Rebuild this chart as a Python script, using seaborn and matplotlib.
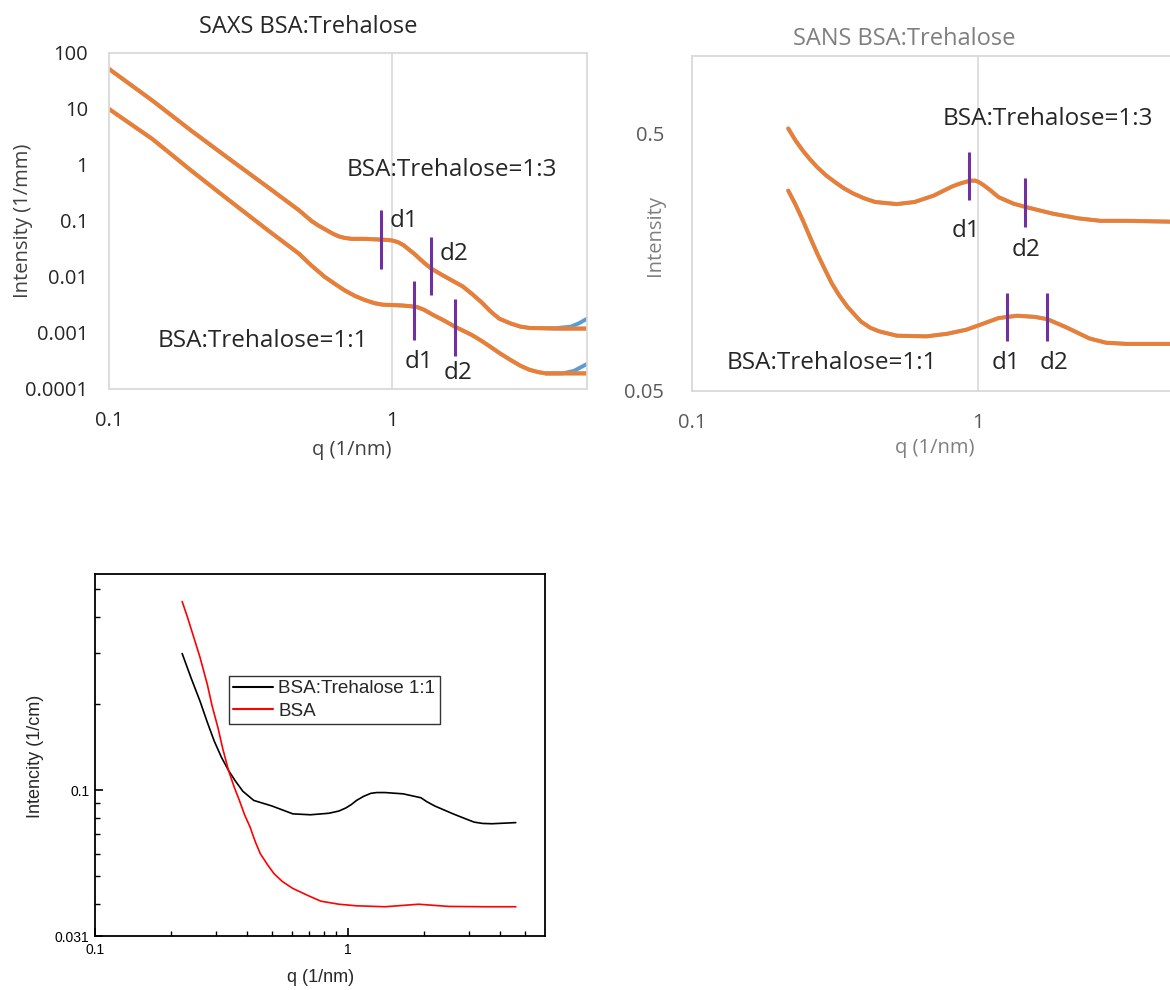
import matplotlib
matplotlib.use("Agg")
import matplotlib.pyplot as plt
import numpy as np
import pandas as pd
import seaborn as sns
from matplotlib.ticker import NullLocator, FixedLocator

# ---------------- data ----------------
# SAXS BSA:Trehalose
saxs_q13 = [0.1, 0.1425, 0.195, 0.266, 0.365, 0.47, 0.52, 0.55, 0.59, 0.62, 0.65, 0.68, 0.72,
            0.80, 0.96, 1.0, 1.05, 1.1, 1.2, 1.3, 1.38, 1.5, 1.63, 1.78, 1.92, 2.08, 2.24, 2.4,
            2.63, 2.85, 3.07, 3.8, 4.9]
saxs_i13 = [51.9, 14.1, 4.13, 1.29, 0.40, 0.155, 0.10, 0.083, 0.068, 0.059, 0.053, 0.050, 0.048,
            0.048, 0.046, 0.045, 0.042, 0.037, 0.026, 0.018, 0.0141, 0.011, 0.0087, 0.0068, 0.0050,
            0.0035, 0.0024, 0.0018, 0.00148, 0.0013, 0.00123, 0.0012, 0.0012]
saxs_q11 = [0.1, 0.1425, 0.195, 0.266, 0.365, 0.47, 0.52, 0.58, 0.63, 0.68, 0.74, 0.80, 0.87,
            0.93, 1.09, 1.17, 1.23, 1.3, 1.40, 1.52, 1.67, 1.92, 2.08, 2.24, 2.4, 2.63, 2.85,
            3.07, 3.3, 3.5, 4.9]
saxs_i11 = [10.0, 2.9, 0.80, 0.234, 0.068, 0.026, 0.016, 0.010, 0.0075, 0.0058, 0.0046, 0.0039,
            0.0034, 0.0032, 0.0031, 0.0030, 0.0029, 0.0026, 0.0021, 0.0017, 0.0013, 0.00092,
            0.00072, 0.00056, 0.00044, 0.00033, 0.00026, 0.00022, 0.00020, 0.00019, 0.00019]
saxs_tail_q13 = [3.07, 3.8, 4.3, 4.6, 4.9]
saxs_tail_i13 = [0.00123, 0.00122, 0.0013, 0.0015, 0.0018]
saxs_tail_q11 = [3.5, 4.0, 4.4, 4.7, 4.9]
saxs_tail_i11 = [0.00019, 0.00019, 0.00021, 0.00025, 0.00028]
saxs_mark_q = [0.918, 1.38, 1.20, 1.667]
saxs_mark_lo = [0.0141, 0.0047, 0.000745, 0.000386]
saxs_mark_hi = [0.155, 0.0518, 0.0084, 0.0040]

# SANS BSA:Trehalose
sans_q13 = [0.217, 0.23, 0.244, 0.258, 0.274, 0.295, 0.317, 0.34, 0.367, 0.40, 0.437, 0.52,
            0.60, 0.70, 0.81, 0.86, 0.91, 0.95, 0.98, 1.01, 1.05, 1.1, 1.18, 1.33, 1.47, 1.83,
            2.25, 2.68, 3.3, 5.0]
sans_i13 = [0.523, 0.47, 0.429, 0.398, 0.37, 0.343, 0.323, 0.306, 0.292, 0.28, 0.271, 0.266,
            0.271, 0.287, 0.311, 0.319, 0.325, 0.328, 0.328, 0.323, 0.314, 0.302, 0.283, 0.267,
            0.259, 0.244, 0.234, 0.229, 0.229, 0.227]
sans_q11 = [0.217, 0.23, 0.244, 0.258, 0.274, 0.29, 0.308, 0.328, 0.35, 0.37, 0.39, 0.42,
            0.45, 0.52, 0.66, 0.78, 0.91, 1.02, 1.18, 1.37, 1.58, 1.75, 2.05, 2.45, 2.8, 3.3, 5.0]
sans_i11 = [0.30, 0.265, 0.23, 0.199, 0.171, 0.15, 0.131, 0.117, 0.106, 0.099, 0.093, 0.088,
            0.0853, 0.082, 0.0815, 0.0834, 0.0865, 0.0905, 0.096, 0.098, 0.097, 0.095, 0.088,
            0.080, 0.077, 0.0762, 0.0762]
sans_mark_q = [0.927, 1.458, 1.26, 1.74]
sans_mark_lo = [0.275, 0.217, 0.078, 0.078]
sans_mark_hi = [0.422, 0.336, 0.120, 0.120]

# Bottom panel
bsa_tre_q = [0.221, 0.24, 0.26, 0.278, 0.296, 0.316, 0.337, 0.36, 0.384, 0.424, 0.50, 0.605,
             0.71, 0.84, 0.92, 0.98, 1.03, 1.08, 1.15, 1.23, 1.30, 1.40, 1.65, 1.94, 2.05, 2.2,
             2.6, 2.9, 3.15, 3.4, 3.7, 4.6]
bsa_tre_i = [0.299, 0.245, 0.204, 0.172, 0.148, 0.130, 0.117, 0.107, 0.099, 0.092, 0.088, 0.0826,
             0.082, 0.083, 0.0845, 0.0866, 0.089, 0.092, 0.095, 0.0974, 0.098, 0.098, 0.097,
             0.094, 0.091, 0.088, 0.0826, 0.0795, 0.0773, 0.0765, 0.0763, 0.077]
bsa_q = [0.221, 0.232, 0.244, 0.26, 0.278, 0.29, 0.306, 0.32, 0.337, 0.354, 0.372, 0.39, 0.41,
         0.43, 0.45, 0.48, 0.51, 0.55, 0.605, 0.69, 0.78, 0.92, 1.08, 1.4, 1.9, 2.5, 3.5, 4.6]
bsa_i = [0.454, 0.40, 0.347, 0.29, 0.233, 0.197, 0.165, 0.139, 0.117, 0.103, 0.092, 0.082, 0.0743,
         0.066, 0.060, 0.055, 0.0511, 0.048, 0.0454, 0.043, 0.041, 0.040, 0.0395, 0.0392,
         0.0400, 0.0393, 0.0392, 0.0392]

# ---------------- style ----------------
sns.set_style("white")
plt.rcParams['font.family'] = ['Open Sans', 'DejaVu Sans']

ORANGE = '#ED7D31'
BLUE = '#5B9BD5'
PURPLE = '#7030A0'
BORDER = '#D9D9D9'
W, H = 1170, 990

fig = plt.figure(figsize=(W / 100, H / 100), dpi=100)


def rect(l, t, r, b):
    return [l / W, 1 - b / H, (r - l) / W, (b - t) / H]


def line(ax, q, i, color, lw, z=2):
    sns.lineplot(x=q, y=i, ax=ax, color=color, linewidth=lw, sort=False,
                 estimator=None, legend=False, zorder=z)


tc = '#262626'
fs = 17.5
tfs = 14.5
lfs = 14.5

# ---------- SAXS ----------
ax1 = fig.add_axes(rect(109, 53, 587, 389))
ax1.set_xscale('log'); ax1.set_yscale('log')
line(ax1, saxs_tail_q13, saxs_tail_i13, BLUE, 2.8, 1)
line(ax1, saxs_tail_q11, saxs_tail_i11, BLUE, 2.8, 1)
line(ax1, saxs_q13, saxs_i13, '#A5A5A5', 3.0, 1)
line(ax1, saxs_q11, saxs_i11, '#A5A5A5', 3.0, 1)
line(ax1, saxs_q13, saxs_i13, ORANGE, 2.7, 2)
line(ax1, saxs_q11, saxs_i11, ORANGE, 2.7, 2)
ax1.vlines(saxs_mark_q, saxs_mark_lo, saxs_mark_hi, color=PURPLE, lw=2.2, zorder=3)
ax1.axvline(1, color=BORDER, lw=1.2, zorder=0)
ax1.set_xlim(0.1, 4.9); ax1.set_ylim(1e-4, 100)
ax1.xaxis.set_major_locator(FixedLocator([0.1, 1]))
ax1.set_xticklabels(['0.1', '1'])
ax1.yaxis.set_major_locator(FixedLocator([1e-4, 1e-3, 1e-2, 1e-1, 1, 10, 100]))
ax1.set_yticklabels(['0.0001', '0.001', '0.01', '0.1', '1', '10', '100'])
ax1.xaxis.set_minor_locator(NullLocator()); ax1.yaxis.set_minor_locator(NullLocator())
ax1.tick_params(axis='x', length=0, pad=16, labelsize=tfs, labelcolor='#262626')
ax1.tick_params(axis='y', length=0, pad=15, labelsize=tfs, labelcolor='#262626')
for s in ax1.spines.values():
    s.set_color(BORDER); s.set_linewidth(1.3)
ax1.set_xlabel(''); ax1.set_ylabel('')
ax1.text(0.693, 0.80, 'BSA:Trehalose=1:3', fontsize=fs, color=tc, va='center', ha='left')
ax1.text(0.149, 0.00072, 'BSA:Trehalose=1:1', fontsize=fs, color=tc, va='center', ha='left')
ax1.text(0.98, 0.102, 'd1', fontsize=fs, color=tc, va='center', ha='left')
ax1.text(1.47, 0.026, 'd2', fontsize=fs, color=tc, va='center', ha='left')
ax1.text(1.245, 0.000306, 'd1', fontsize=fs, color=tc, va='center', ha='center')
ax1.text(1.71, 0.00019, 'd2', fontsize=fs, color=tc, va='center', ha='center')
fig.text(308 / W, 1 - 27 / H, 'SAXS BSA:Trehalose', fontsize=17, color=tc, ha='center', va='center')
fig.text(23 / W, 1 - 221 / H, 'Intensity (1/mm)', fontsize=lfs, color='#404040', ha='center',
         va='center', rotation=90)
fig.text(352 / W, 1 - 450 / H, 'q (1/nm)', fontsize=lfs, color='#404040', ha='center', va='center')

# ---------- SANS ----------
gc = '#7F7F7F'
ax2 = fig.add_axes(rect(692, 56, 1178, 391))
ax2.set_xscale('log'); ax2.set_yscale('log')
line(ax2, sans_q13, sans_i13, '#A5A5A5', 3.0, 1)
line(ax2, sans_q11, sans_i11, '#A5A5A5', 3.0, 1)
line(ax2, sans_q13, sans_i13, ORANGE, 2.6, 2)
line(ax2, sans_q11, sans_i11, ORANGE, 2.6, 2)
ax2.vlines(sans_mark_q, sans_mark_lo, sans_mark_hi, color=PURPLE, lw=2.2, zorder=3)
ax2.axvline(1, color=BORDER, lw=1.2, zorder=0)
ax2.set_xlim(0.1, 5); ax2.set_ylim(0.05, 1)
ax2.xaxis.set_major_locator(FixedLocator([0.1, 1]))
ax2.set_xticklabels(['0.1', '1'])
ax2.yaxis.set_major_locator(FixedLocator([0.05, 0.5]))
ax2.set_yticklabels(['0.05', '0.5'])
ax2.xaxis.set_minor_locator(NullLocator()); ax2.yaxis.set_minor_locator(NullLocator())
ax2.tick_params(axis='x', length=0, pad=16, labelsize=tfs, labelcolor='#595959')
ax2.tick_params(axis='y', direction='in', length=5, width=1.2, color=BORDER, pad=20,
                labelsize=tfs, labelcolor='#595959')
for s in ax2.spines.values():
    s.set_color(BORDER); s.set_linewidth(1.3)
ax2.set_xlabel(''); ax2.set_ylabel('')
ax2.text(0.751, 0.568, 'BSA:Trehalose=1:3', fontsize=fs, color=tc, va='center', ha='left')
ax2.text(0.132, 0.0643, 'BSA:Trehalose=1:1', fontsize=fs, color=tc, va='center', ha='left')
ax2.text(0.91, 0.21, 'd1', fontsize=fs, color=tc, va='center', ha='center')
ax2.text(1.47, 0.176, 'd2', fontsize=fs, color=tc, va='center', ha='center')
ax2.text(1.25, 0.0643, 'd1', fontsize=fs, color=tc, va='center', ha='center')
ax2.text(1.84, 0.0643, 'd2', fontsize=fs, color=tc, va='center', ha='center')
fig.text(904 / W, 1 - 39 / H, 'SANS BSA:Trehalose', fontsize=17, color=gc, ha='center', va='center')
fig.text(655 / W, 1 - 235 / H, 'Intensity', fontsize=lfs, color=gc, ha='center', va='center',
         rotation=90)
fig.text(935 / W, 1 - 448 / H, 'q (1/nm)', fontsize=lfs, color=gc, ha='center', va='center')

# ---------- Bottom (Origin style) ----------
arial = ['Liberation Sans', 'DejaVu Sans']
ax3 = fig.add_axes(rect(95, 574, 545, 936))
ax3.set_xscale('log'); ax3.set_yscale('log')
sns.lineplot(x=bsa_tre_q, y=bsa_tre_i, ax=ax3, color='black', linewidth=1.2, sort=False,
             estimator=None, label='BSA:Trehalose 1:1')
sns.lineplot(x=bsa_q, y=bsa_i, ax=ax3, color='red', linewidth=1.2, sort=False,
             estimator=None, label='BSA')
ax3.set_xlim(0.1, 6); ax3.set_ylim(0.031, 0.566)
ax3.xaxis.set_major_locator(FixedLocator([0.1, 1]))
ax3.set_xticklabels(['0.1', '1'], family=arial)
ax3.xaxis.set_minor_locator(FixedLocator([0.2, 0.3, 0.4, 0.5, 0.6, 0.7, 0.8, 0.9, 2, 3, 4, 5]))
ax3.yaxis.set_major_locator(FixedLocator([0.031, 0.1]))
ax3.set_yticklabels(['0.031', '0.1'], family=arial)
ax3.yaxis.set_minor_locator(FixedLocator([0.04, 0.05, 0.06, 0.07, 0.08, 0.09, 0.2, 0.3, 0.4, 0.5]))
ax3.tick_params(which='major', direction='in', length=6, width=1.2, color='black',
                labelsize=10, pad=5, labelcolor='black', bottom=True, left=True)
ax3.tick_params(which='minor', direction='in', length=3.5, width=1.0, color='black',
                bottom=True, left=True)
ax3.tick_params(axis='y', which='major', pad=4)
for s in ax3.spines.values():
    s.set_color('black'); s.set_linewidth(1.3)
ax3.set_xlabel(''); ax3.set_ylabel('')
leg = ax3.legend(loc='upper left', bbox_to_anchor=((229 - 95) / 450, (936 - 676) / 362),
                 borderaxespad=0, frameon=True, fancybox=False, edgecolor='black',
                 prop={'family': arial, 'size': 13.6}, handlelength=2.1, handletextpad=0.3,
                 borderpad=0.22, labelspacing=0.28)
leg.get_frame().set_linewidth(1.0)
for h in leg.get_lines():
    h.set_linewidth(1.5)
fig.text(321 / W, 1 - 977 / H, 'q (1/nm)', fontsize=13, family=arial, ha='center', va='center')
fig.text(36 / W, 1 - 756 / H, 'Intencity (1/cm)', fontsize=13, family=arial, ha='center',
         va='center', rotation=90)

fig.savefig('out.png', dpi=100)
